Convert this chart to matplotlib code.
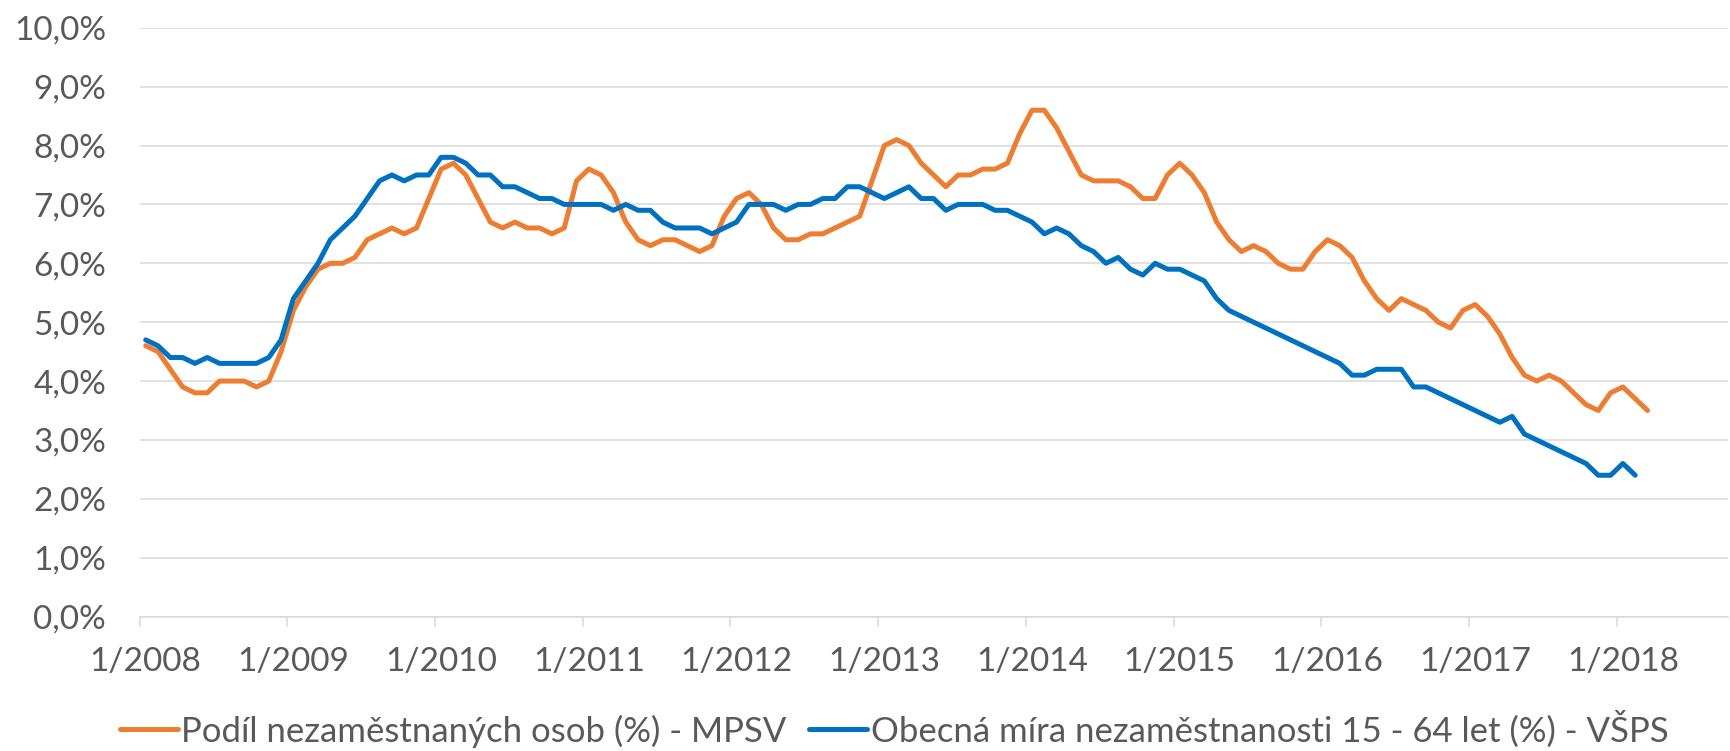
import matplotlib
matplotlib.use("Agg")
import matplotlib.pyplot as plt
import numpy as np


# NOTE : Data (monthly, from 1/2008)
mpsv=[4.6, 4.5, 4.2, 3.9, 3.8, 3.8, 4.0, 4.0, 4.0, 3.9, 4.0, 4.5,
      5.2, 5.6, 5.9, 6.0, 6.0, 6.1, 6.4, 6.5, 6.6, 6.5, 6.6, 7.1,
      7.6, 7.7, 7.5, 7.1, 6.7, 6.6, 6.7, 6.6, 6.6, 6.5, 6.6, 7.4,
      7.6, 7.5, 7.2, 6.7, 6.4, 6.3, 6.4, 6.4, 6.3, 6.2, 6.3, 6.8,
      7.1, 7.2, 7.0, 6.6, 6.4, 6.4, 6.5, 6.5, 6.6, 6.7, 6.8, 7.4,
      8.0, 8.1, 8.0, 7.7, 7.5, 7.3, 7.5, 7.5, 7.6, 7.6, 7.7, 8.2,
      8.6, 8.6, 8.3, 7.9, 7.5, 7.4, 7.4, 7.4, 7.3, 7.1, 7.1, 7.5,
      7.7, 7.5, 7.2, 6.7, 6.4, 6.2, 6.3, 6.2, 6.0, 5.9, 5.9, 6.2,
      6.4, 6.3, 6.1, 5.7, 5.4, 5.2, 5.4, 5.3, 5.2, 5.0, 4.9, 5.2,
      5.3, 5.1, 4.8, 4.4, 4.1, 4.0, 4.1, 4.0, 3.8, 3.6, 3.5, 3.8,
      3.9, 3.7, 3.5]

vsps=[4.7, 4.6, 4.4, 4.4, 4.3, 4.4, 4.3, 4.3, 4.3, 4.3, 4.4, 4.7,
      5.4, 5.7, 6.0, 6.4, 6.6, 6.8, 7.1, 7.4, 7.5, 7.4, 7.5, 7.5,
      7.8, 7.8, 7.7, 7.5, 7.5, 7.3, 7.3, 7.2, 7.1, 7.1, 7.0, 7.0,
      7.0, 7.0, 6.9, 7.0, 6.9, 6.9, 6.7, 6.6, 6.6, 6.6, 6.5, 6.6,
      6.7, 7.0, 7.0, 7.0, 6.9, 7.0, 7.0, 7.1, 7.1, 7.3, 7.3, 7.2,
      7.1, 7.2, 7.3, 7.1, 7.1, 6.9, 7.0, 7.0, 7.0, 6.9, 6.9, 6.8,
      6.7, 6.5, 6.6, 6.5, 6.3, 6.2, 6.0, 6.1, 5.9, 5.8, 6.0, 5.9,
      5.9, 5.8, 5.7, 5.4, 5.2, 5.1, 5.0, 4.9, 4.8, 4.7, 4.6, 4.5,
      4.4, 4.3, 4.1, 4.1, 4.2, 4.2, 4.2, 3.9, 3.9, 3.8, 3.7, 3.6,
      3.5, 3.4, 3.3, 3.4, 3.1, 3.0, 2.9, 2.8, 2.7, 2.6, 2.4, 2.4,
      2.6, 2.4]

# category axis runs 1/2008 .. 9/2018
months=[f"{m}/{y}" for y in range(2008, 2019) for m in range(1, 13)][:129]
y_ticks=[0, 1, 2, 3, 4, 5, 6, 7, 8, 9, 10]
y_labels=["0,0%", "1,0%", "2,0%", "3,0%", "4,0%", "5,0%", "6,0%", "7,0%", "8,0%", "9,0%", "10,0%"]

label_mpsv="Podíl nezaměstnaných osob (%) - MPSV"
label_vsps="Obecná míra nezaměstnanosti 15 - 64 let (%) - VŠPS"


plt.rcParams["font.family"]=["Lato", "DejaVu Sans"]
text_color="#595959"
grid_color="#D9D9D9"

fig=plt.figure(figsize=(17.31, 7.51), dpi=100)
ax=fig.add_axes([0.0806, 0.179, 0.9174, 0.784])

ax.plot(np.arange(len(mpsv)), mpsv, color="#ED7D31", linewidth=3.6,
        solid_joinstyle="round", solid_capstyle="round", label=label_mpsv)
ax.plot(np.arange(len(vsps)), vsps, color="#0070C0", linewidth=3.6,
        solid_joinstyle="round", solid_capstyle="round", label=label_vsps)

ax.set_xlim(-0.5, len(months)-0.5)
ax.set_ylim(0, 10)

ax.set_yticks(y_ticks)
ax.set_yticklabels(y_labels)
ax.tick_params(axis="y", length=0, pad=24, labelsize=24, labelcolor=text_color)
ax.yaxis.grid(True, color=grid_color, linewidth=1.1)
ax.set_axisbelow(True)

major=np.arange(0, len(months), 12)
ax.set_xticks(major)
ax.set_xticklabels([months[i] for i in major])
ax.set_xticks(np.arange(-0.5, 120, 12), minor=True)
ax.tick_params(axis="x", which="major", length=0, pad=22, labelsize=24, labelcolor=text_color)
ax.tick_params(axis="x", which="minor", length=7.5, width=1.1, color=grid_color)

for side in ["top", "right", "left"]:
    ax.spines[side].set_visible(False)
ax.spines["bottom"].set_color(grid_color)
ax.spines["bottom"].set_linewidth(1.1)

fig.legend(loc="center", bbox_to_anchor=(0.5166, 1-729/751), ncol=2, frameon=False,
           fontsize=25, labelcolor=text_color, handlelength=1.67, handletextpad=0.1,
           columnspacing=0.65)

plt.savefig("out.png", dpi=100)
plt.close()
